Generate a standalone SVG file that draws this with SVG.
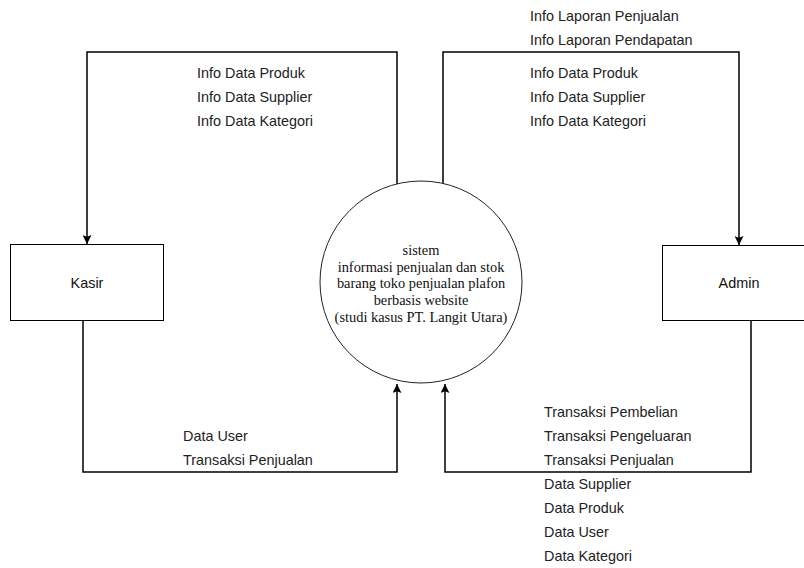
<svg xmlns="http://www.w3.org/2000/svg" width="804" height="568" viewBox="0 0 804 568">
  <style>
    .box { fill: #ffffff; stroke: #000000; stroke-width: 1; }
    .proc { fill: #ffffff; stroke: #222222; stroke-width: 1; }
    .flow { fill: none; stroke: #000000; stroke-width: 1.5; }
    .lbl { font-family: "Liberation Sans", Arial, sans-serif; font-size: 14.4px; fill: #222222; }
    .name { font-family: "Liberation Sans", Arial, sans-serif; font-size: 14.4px; fill: #111111; text-anchor: middle; }
    .ptxt { font-family: "Liberation Serif", "Times New Roman", serif; font-size: 14.4px; fill: #111111; text-anchor: middle; }
  </style>
  <defs>
    <marker id="arrow" viewBox="0 0 10 10" refX="10" refY="5" markerWidth="9" markerHeight="9" markerUnits="userSpaceOnUse" orient="auto">
      <path d="M0,0 L10,5 L0,10 L2,5 z" fill="#000000"/>
    </marker>
  </defs>
  <rect width="804" height="568" fill="#ffffff"/>

  <!-- data flows -->
  <g id="connectors">
    <path class="flow" d="M397,184 V52 H87 V244" marker-end="url(#arrow)"/>
    <path class="flow" d="M443,185 V52 H739 V245" marker-end="url(#arrow)"/>
    <path class="flow" d="M83,320 V472 H397 V384" marker-end="url(#arrow)"/>
    <path class="flow" d="M751,320 V472 H445 V384" marker-end="url(#arrow)"/>
  </g>

  <!-- flow labels -->
  <g id="labels">
    <text class="lbl" x="197" y="78">Info Data Produk</text>
    <text class="lbl" x="197" y="102">Info Data Supplier</text>
    <text class="lbl" x="197" y="126">Info Data Kategori</text>

    <text class="lbl" x="530" y="21">Info Laporan Penjualan</text>
    <text class="lbl" x="530" y="45">Info Laporan Pendapatan</text>
    <text class="lbl" x="530" y="78">Info Data Produk</text>
    <text class="lbl" x="530" y="102">Info Data Supplier</text>
    <text class="lbl" x="530" y="126">Info Data Kategori</text>

    <text class="lbl" x="183" y="441">Data User</text>
    <text class="lbl" x="183" y="465">Transaksi Penjualan</text>

    <text class="lbl" x="544" y="417">Transaksi Pembelian</text>
    <text class="lbl" x="544" y="441">Transaksi Pengeluaran</text>
    <text class="lbl" x="544" y="465">Transaksi Penjualan</text>
    <text class="lbl" x="544" y="489">Data Supplier</text>
    <text class="lbl" x="544" y="513">Data Produk</text>
    <text class="lbl" x="544" y="537">Data User</text>
    <text class="lbl" x="544" y="561">Data Kategori</text>
  </g>

  <g id="kasir">
    <rect class="box" x="10.5" y="244.5" width="153" height="76"/>
    <text class="name" x="87" y="288">Kasir</text>
  </g>

  <g id="admin">
    <rect class="box" x="662.5" y="245.5" width="153" height="75"/>
    <text class="name" x="739" y="288">Admin</text>
  </g>

  <g id="sistem">
    <circle class="proc" cx="421" cy="282" r="101"/>
    <text class="ptxt" x="421" y="255">sistem</text>
    <text class="ptxt" x="421" y="272">informasi penjualan dan stok</text>
    <text class="ptxt" x="421" y="288">barang toko penjualan plafon</text>
    <text class="ptxt" x="421" y="305">berbasis website</text>
    <text class="ptxt" x="421" y="322">(studi kasus PT. Langit Utara)</text>
  </g>
</svg>
